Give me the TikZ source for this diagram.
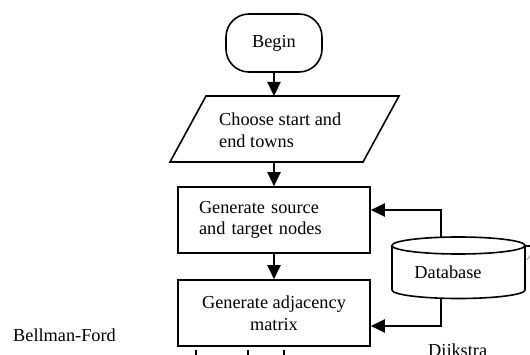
\documentclass[tikz,border=0pt]{standalone}
\usepackage{fontspec}
\setmainfont{Liberation Serif}
\usetikzlibrary{arrows.meta}
\begin{document}
\begin{tikzpicture}[x=1pt,y=-1pt,
  lbl/.style={font=\fontsize{18.3}{21.5}\selectfont,inner sep=0pt},
  box/.style={draw,line width=1.6pt,minimum width=192pt,minimum height=66pt,inner sep=0pt,lbl},
  conn/.style={line width=2.3pt,-{Triangle[width=13pt,length=14pt]}},
  plain/.style={line width=2pt},
  outline/.style={line width=1.6pt}]
\useasboundingbox (0,0) rectangle (530,355);
\clip (0,0) rectangle (530,355);
% Begin
\node[box,rounded corners=23pt,minimum width=96pt,minimum height=58pt] (begin) at (274,43) {Begin};
% parallelogram
\draw[outline] (206,96) -- (399,96) -- (363,162) -- (170,162) -- cycle;
\coordinate (ptop) at (274,96);
\coordinate (pbot) at (274,162);
\node[lbl,anchor=west,align=left] (choose) at (219,130) {Choose start and\\end towns};
% rectangles
\node[box,text width=150pt,align=left] (rect1) at (274,220) {Generate source\\and target nodes};
\node[box,align=center] (rect2) at (274,313) {Generate adjacency\\matrix};
% database cylinder
\draw[outline] (392,245.5) -- (392,290) arc[start angle=180,end angle=0,x radius=66.5,y radius=8.5] -- (525,245.5);
\draw[outline] (458.5,245.5) ellipse[x radius=66.5,y radius=8.5];
\node[lbl] (db) at (448,272) {Database};
\coordinate (dbtop) at (441,237);
\coordinate (dbbot) at (441,298.5);
% connectors
\draw[conn] (begin.south) -- (ptop);
\draw[conn] (pbot) -- (rect1.north);
\draw[conn] (rect1.south) -- (rect2.north);
\draw[conn] (dbtop) |- ([yshift=10pt]rect1.east);
\draw[conn] (dbbot) |- ([yshift=-13pt]rect2.east);
\draw[plain] ([xshift=-78pt,yshift=-3pt]rect2.south) -- ++(0,16);
\draw[plain] ([xshift=-26pt,yshift=-3pt]rect2.south) -- ++(0,16);
\draw[plain] ([xshift=10pt,yshift=-3pt]rect2.south) -- ++(0,16);
% fragments at right edge
\coordinate (dbright) at (525,246);
\draw[outline] (dbright) -- ++(9,0);
\draw[line width=0.6pt,gray] (527,260) -- (532,253);
% labels
\node[lbl,anchor=base west] (bf) at (13,341.5) {Bellman-Ford};
\node[lbl,anchor=base west] (dij) at (428,356) {Dijkstra};
\end{tikzpicture}
\end{document}
